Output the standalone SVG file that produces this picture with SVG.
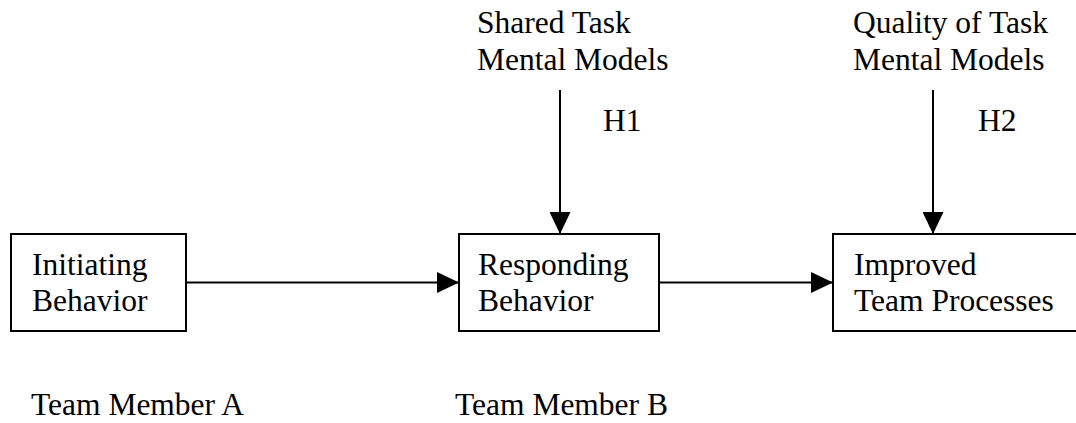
<svg xmlns="http://www.w3.org/2000/svg" width="1076" height="423" viewBox="0 0 1076 423">
<style>
text{font-family:"Liberation Serif","Times New Roman",serif;font-size:31.5px;fill:#000}
.box{fill:#fff;stroke:#000;stroke-width:2}
.ln{stroke:#000;stroke-width:2;fill:none}
</style>
<defs>
<marker id="ah" viewBox="0 0 22 21" refX="22" refY="10.5" markerWidth="22" markerHeight="21" markerUnits="userSpaceOnUse" orient="auto">
<path d="M0,0 L22,10.5 L0,21 Z" fill="#000"/>
</marker>
</defs>
<rect width="1076" height="423" fill="#fff"/>
<g id="connectors">
<line class="ln" x1="186" y1="282.5" x2="459" y2="282.5" marker-end="url(#ah)"/>
<line class="ln" x1="659" y1="282.5" x2="833" y2="282.5" marker-end="url(#ah)"/>
<line class="ln" x1="560" y1="90" x2="560" y2="234" marker-end="url(#ah)"/>
<line class="ln" x1="933" y1="90" x2="933" y2="234" marker-end="url(#ah)"/>
</g>
<g id="initiating">
<rect class="box" x="11" y="234" width="175" height="97"/>
<text x="32" y="275">Initiating</text>
<text x="32" y="311">Behavior</text>
</g>
<g id="responding">
<rect class="box" x="459" y="234" width="200" height="97"/>
<text x="478" y="275">Responding</text>
<text x="478" y="311">Behavior</text>
</g>
<g id="improved">
<rect class="box" x="833" y="234" width="250" height="97"/>
<text x="854" y="275">Improved</text>
<text x="854" y="311">Team Processes</text>
</g>
<g id="shared">
<text x="477" y="33">Shared Task</text>
<text x="477" y="70">Mental Models</text>
</g>
<g id="quality">
<text x="853" y="33">Quality of Task</text>
<text x="853" y="70">Mental Models</text>
</g>
<g id="h1"><text x="603" y="131">H1</text></g>
<g id="h2"><text x="978" y="131">H2</text></g>
<g id="memberA"><text x="31" y="415">Team Member A</text></g>
<g id="memberB"><text x="455" y="415">Team Member B</text></g>
</svg>
